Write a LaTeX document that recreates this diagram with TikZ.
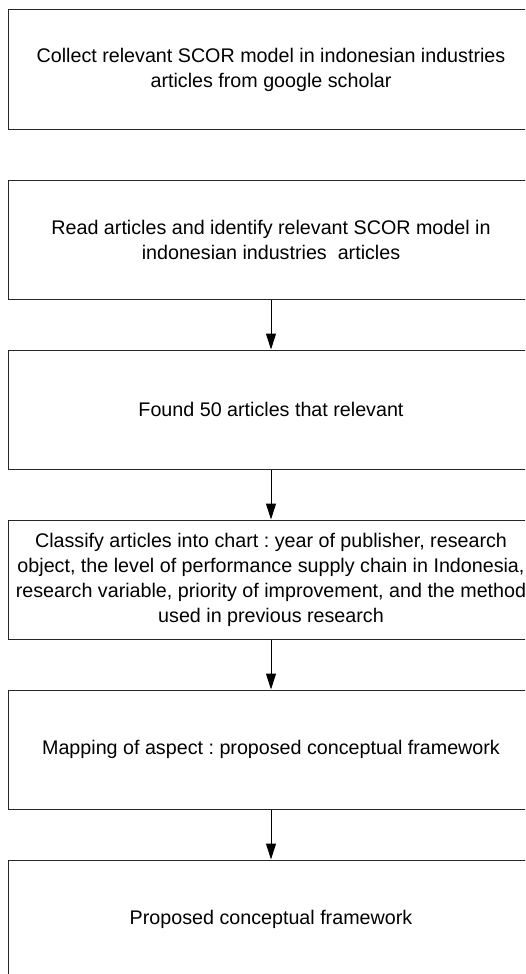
\documentclass[tikz,border=0pt]{standalone}
\usepackage{fontspec}
\setmainfont{Liberation Sans}
\usetikzlibrary{arrows.meta}
\frenchspacing
\begin{document}
\begin{tikzpicture}[x=1pt,y=1pt,
  stepbox/.style={draw=black!85, line width=1pt, minimum width=526pt, minimum height=119pt,
    inner sep=0pt, align=center, font=\fontsize{19.7pt}{25pt}\selectfont},
  flow/.style={draw=black, line width=1pt, -{Triangle[length=16pt,width=10pt]}}]
\path[use as bounding box, clip] (0,0) rectangle (525,-974);
\fill[white] (0,0) rectangle (525,-974);
\node[stepbox] (b1) at (271,-69.5) {Collect relevant SCOR model in indonesian industries\\articles from google scholar};
\node[stepbox] (b2) at (271,-239.5) {Read articles and identify relevant SCOR model in\\indonesian industries\ \ articles};
\node[stepbox] (b3) at (271,-409.5) {Found 50 articles that relevant};
\node[stepbox] (b4) at (271,-579.5) {Classify articles into chart : year of publisher, research\\object, the level of performance supply chain in Indonesia,\\research variable, priority of improvement, and the method\\used in previous research};
\node[stepbox] (b5) at (271,-749.5) {Mapping of aspect : proposed conceptual framework};
\node[stepbox] (b6) at (271,-919.5) {Proposed conceptual framework};
\draw[flow] (b2.south) -- (b3.north);
\draw[flow] (b3.south) -- (b4.north);
\draw[flow] (b4.south) -- (b5.north);
\draw[flow] (b5.south) -- (b6.north);
\end{tikzpicture}
\end{document}
